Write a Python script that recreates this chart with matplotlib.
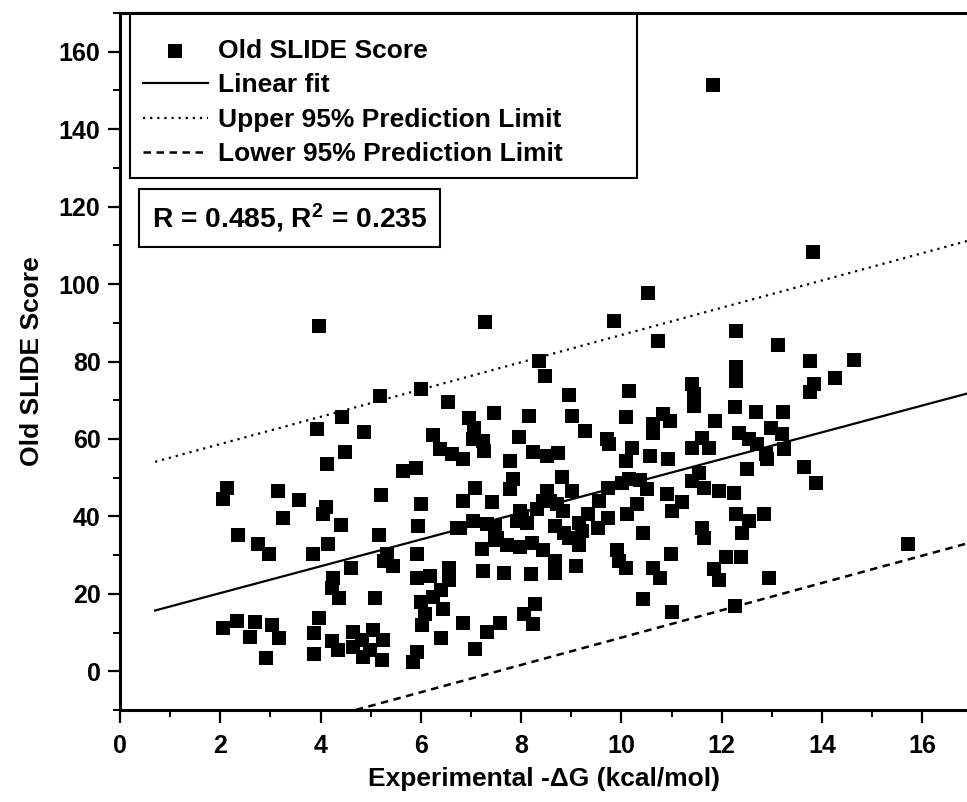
import matplotlib
matplotlib.use("Agg")
import matplotlib.pyplot as plt
from matplotlib.patches import Rectangle
from matplotlib.ticker import MultipleLocator

plt.rcParams["font.family"] = ["Liberation Sans", "DejaVu Sans"]
plt.rcParams["font.weight"] = "bold"
plt.rcParams["axes.labelweight"] = "bold"
plt.rcParams["mathtext.default"] = "regular"

# experimental -dG (kcal/mol) and old SLIDE score
dg = [2.05, 2.33, 2.69, 2.59, 3.03, 3.17, 2.91, 3.96, 3.86, 3.86, 4.22, 4.34, 4.64, 4.82, 4.84,
      4.64, 5.04, 5.22, 5.24, 4.98, 4.36, 5.08, 4.22, 4.24, 4.60,
      2.13, 2.05, 3.15, 3.57, 4.10, 4.04, 5.20, 3.25, 4.40, 2.35, 2.75, 2.97, 3.84, 4.14, 5.16,
      5.32, 5.44, 5.26, 5.92, 5.94, 6.00, 6.72,
      3.96, 5.18, 4.42, 3.92, 4.86, 4.48, 4.12, 5.64, 5.90, 6.00, 6.55, 6.25, 6.39, 6.63, 6.83,
      7.27, 9.86, 10.52, 10.72, 8.35, 8.47, 8.96, 10.14, 6.95, 7.45, 8.15, 9.02, 10.10, 7.05,
      9.28, 7.95, 9.72, 10.82, 10.62, 10.96, 10.62, 7.03, 7.23, 7.25, 7.77, 8.23, 8.51, 8.73,
      9.76, 10.20, 10.10, 10.56, 10.92, 7.83, 8.82, 10.14, 10.36,
      7.07, 7.77, 9.02, 8.51, 6.83, 7.41, 8.43, 8.71, 9.74, 10.02, 10.50, 10.90, 11.00, 9.56,
      9.34, 9.74, 10.12, 10.30, 8.01, 8.31, 8.11, 6.77, 7.03, 7.31, 7.47, 8.67, 8.86, 9.16,
      9.22, 8.96, 10.42, 7.21, 7.47, 7.71, 7.97, 8.21, 8.43, 9.16, 8.67, 8.67, 7.23, 7.65,
      8.19, 9.10, 9.92, 9.96, 10.10, 10.98, 10.62, 10.76, 7.98, 8.57, 8.83, 7.92, 9.53, 7.51,
      6.57, 6.57, 5.92, 6.18, 6.41, 6.24, 6.00, 6.08, 6.02, 6.45, 6.83, 6.41, 5.92, 5.84, 7.31,
      7.57, 7.07, 8.05, 8.27, 8.23, 10.42, 11.00,
      11.82, 13.82, 12.29, 13.13, 13.76, 14.64, 14.26, 13.84, 13.75, 12.29, 12.29, 11.41, 11.45,
      11.45, 12.27, 12.69, 13.23, 11.87, 12.35, 12.55, 12.71, 12.99, 13.21, 13.25, 12.89, 12.91,
      11.61, 11.41, 11.75, 11.55, 12.51, 13.63, 13.88, 11.41, 11.65, 11.95, 12.25, 11.20, 12.29,
      12.85, 12.55, 12.41, 11.61, 11.65, 12.09, 12.39, 11.85, 11.95, 12.95, 12.27, 15.72]
score = [11.3, 13.1, 12.6, 8.8, 11.9, 8.5, 3.4, 13.7, 9.8, 4.4, 7.7, 5.4, 10.1, 8.0, 3.6,
         6.2, 10.6, 2.8, 8.2, 5.4, 18.8, 18.8, 21.6, 24.0, 26.8,
         47.4, 44.6, 46.6, 44.3, 42.3, 40.7, 45.6, 39.7, 37.9, 35.1, 33.0, 30.2, 30.4, 33.0, 35.1,
         30.4, 27.3, 28.5, 30.2, 37.6, 43.3, 36.9,
         89.2, 71.1, 65.7, 62.6, 61.9, 56.7, 53.6, 51.8, 52.6, 72.9, 69.6, 61.1, 57.5, 56.2, 54.9,
         90.2, 90.5, 97.7, 85.3, 80.2, 76.3, 71.4, 72.4, 65.5, 66.8, 66.0, 66.0, 65.7, 62.9,
         62.1, 60.6, 60.1, 66.5, 63.9, 64.7, 61.6, 60.1, 59.5, 57.0, 54.4, 56.7, 55.7, 56.4,
         58.8, 57.7, 54.4, 55.7, 54.9, 49.6, 50.3, 49.7, 49.4,
         47.4, 47.0, 46.6, 46.6, 44.1, 43.8, 44.1, 43.3, 47.4, 48.5, 47.2, 45.9, 41.5, 44.1,
         40.7, 39.7, 40.7, 43.3, 40.2, 42.0, 38.4, 36.9, 38.9, 38.1, 37.6, 37.6, 35.8, 38.4,
         36.3, 34.5, 35.8, 31.7, 33.8, 32.5, 32.0, 33.2, 31.2, 32.5, 28.6, 25.3, 26.0, 25.3,
         25.0, 27.3, 31.2, 28.6, 26.8, 30.4, 26.8, 24.0, 41.5, 44.1, 41.5, 38.9, 36.9, 34.5,
         26.8, 23.5, 24.0, 24.7, 20.9, 19.1, 17.8, 14.9, 11.9, 16.2, 12.4, 8.5, 4.9, 2.3, 10.1,
         12.4, 5.7, 14.9, 17.5, 12.1, 18.6, 15.2,
         151.5, 108.2, 87.9, 84.3, 80.2, 80.4, 75.8, 74.2, 72.2, 78.6, 75.0, 74.2, 71.6,
         68.6, 68.3, 67.0, 67.0, 64.7, 61.6, 60.1, 58.8, 62.9, 61.3, 57.5, 56.2, 54.9,
         60.3, 57.7, 57.7, 51.3, 52.3, 52.8, 48.5, 49.2, 47.4, 46.6, 46.1, 43.6, 40.5,
         40.5, 38.9, 35.6, 37.1, 34.3, 29.4, 29.4, 26.5, 23.5, 24.0, 16.8, 33.0]

# fit line and 95% prediction limits, end points
line_x = [0.7, 17.0]
fit_y = [15.7, 72.1]
upper_y = [54.1, 111.5]
lower_y = [-24.1, 33.4]

fig = plt.figure(figsize=(9.67, 8.02), dpi=100)
ax = fig.add_axes([0.1241, 0.1147, 0.8759, 0.8691])

ax.scatter(dg, score, marker="s", s=105, color="black", linewidths=0, label="Old SLIDE Score", zorder=3)
ax.plot(line_x, fit_y, color="black", lw=1.6, label="Linear fit")
ax.plot(line_x, upper_y, color="black", lw=1.6, ls=(0, (1, 2.2)), label="Upper 95% Prediction Limit")
ax.plot(line_x, lower_y, color="black", lw=1.8, ls=(0, (3, 2.2)), label="Lower 95% Prediction Limit")

ax.set_xlim(0, 16.89)
ax.set_ylim(-10, 170)
ax.xaxis.set_major_locator(MultipleLocator(2))
ax.xaxis.set_minor_locator(MultipleLocator(1))
ax.yaxis.set_major_locator(MultipleLocator(20))
ax.yaxis.set_minor_locator(MultipleLocator(10))
ax.tick_params(which="major", length=9, width=1.6, labelsize=18, pad=5)
ax.tick_params(axis="x", which="major", pad=8)
ax.tick_params(which="minor", length=5, width=1.4)
ax.tick_params(top=False, right=False)

for side in ["left", "bottom", "top"]:
    ax.spines[side].set_linewidth(2.2)
ax.spines["right"].set_visible(False)

ax.set_xlabel("Experimental -\u0394G (kcal/mol)", fontsize=19, fontweight="bold")
ax.set_ylabel("Old SLIDE Score", fontsize=19, fontweight="bold")
ax.xaxis.set_label_coords(0.5, -0.082)
ax.yaxis.set_label_coords(-0.09, 0.5)

# legend without its own frame, box drawn separately so it sits like the original
leg = ax.legend(loc="upper left", bbox_to_anchor=(0.027, 0.963), frameon=False,
                fontsize=19, borderaxespad=0, borderpad=0, handlelength=2.45,
                handletextpad=0.38, labelspacing=0.4)
ax.add_patch(Rectangle((0.0118, 0.7633), 0.5986, 0.2367, transform=ax.transAxes,
                       fill=False, edgecolor="black", linewidth=1.5, zorder=4, clip_on=False))

ax.text(0.0378, 0.706, "R = 0.485, R$^2$ = 0.235", transform=ax.transAxes, fontsize=20.3,
        ha="left", va="center",
        bbox=dict(boxstyle="square,pad=0.45", facecolor="white", edgecolor="black", linewidth=1.5))

fig.savefig("out.png", dpi=100)
